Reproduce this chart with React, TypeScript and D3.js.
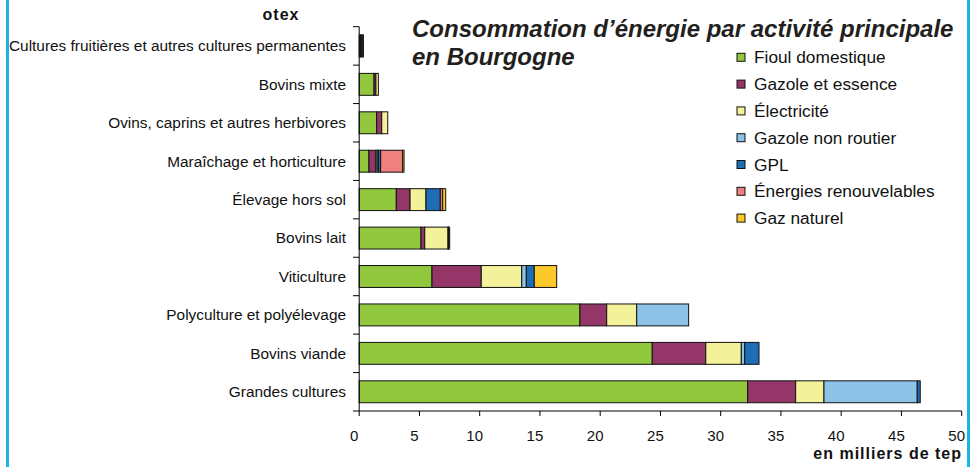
import React, { useEffect, useRef } from 'react';
import * as d3 from 'd3';

// otex, top to bottom
const categories = [
  'Cultures fruitières et autres cultures permanentes',
  'Bovins mixte',
  'Ovins, caprins et autres herbivores',
  'Maraîchage et horticulture',
  'Élevage hors sol',
  'Bovins lait',
  'Viticulture',
  'Polyculture et polyélevage',
  'Bovins viande',
  'Grandes cultures',
];

const energies = [
  'Fioul domestique',
  'Gazole et essence',
  'Électricité',
  'Gazole non routier',
  'GPL',
  'Énergies renouvelables',
  'Gaz naturel',
];

// milliers de tep, one array per energy, same order as categories
const fioul = [0.1, 1.23, 1.45, 0.81, 3.08, 5.13, 6.04, 18.32, 24.32, 32.24];
const gazole = [0.1, 0.16, 0.42, 0.58, 1.14, 0.31, 4.09, 2.22, 4.44, 3.98];
const electricite = [0.1, 0.2, 0.5, 0.1, 1.32, 1.93, 3.36, 2.49, 2.95, 2.35];
const gazoleNonRoutier = [0, 0, 0, 0.1, 0, 0.05, 0.38, 4.31, 0.28, 7.74];
const gpl = [0.05, 0, 0, 0.19, 1.19, 0.09, 0.66, 0, 1.19, 0.25];
const renouvelables = [0, 0, 0, 1.83, 0.2, 0, 0, 0, 0, 0];
const gazNaturel = [0, 0, 0, 0.11, 0.25, 0, 1.86, 0, 0, 0];

const colors = ['#92c83e', '#943768', '#f3f199', '#8dc3e7', '#1f6db4', '#f07f7f', '#fdc82a'];
const xTicks = [0, 5, 10, 15, 20, 25, 30, 35, 40, 45, 50];

export default function App() {
  const svgRef = useRef<SVGSVGElement>(null);

  useEffect(() => {
    const svg = d3.select(svgRef.current);
    svg.selectAll('*').remove();
    const font = 'Liberation Sans, Arial, sans-serif';
    const top = 26.7;
    const bottom = 411;

    const series = [fioul, gazole, electricite, gazoleNonRoutier, gpl, renouvelables, gazNaturel];
    const rows = categories.map((c, i) => {
      const r: any = { cat: c };
      energies.forEach((e, k) => (r[e] = series[k][i]));
      return r;
    });
    const stacked = d3.stack().keys(energies)(rows);

    const x = d3.scaleLinear().domain([0, 50]).range([359.2, 961.7]);
    const y = d3.scaleBand().domain(categories).range([top, bottom]).paddingInner(0.43).paddingOuter(0.215);

    // side borders
    svg.append('line').attr('x1', 7.5).attr('x2', 7.5).attr('y1', 0).attr('y2', 467)
      .attr('stroke', '#1db4e2').attr('stroke-width', 3);
    svg.append('line').attr('x1', 968.5).attr('x2', 968.5).attr('y1', 0).attr('y2', 467)
      .attr('stroke', '#1db4e2').attr('stroke-width', 3);

    // bars
    svg.append('g').selectAll('g').data(stacked).join('g')
      .attr('fill', (d, i) => colors[i])
      .selectAll('rect').data((d) => d.filter((p) => p[1] - p[0] > 0)).join('rect')
      .attr('x', (d) => x(d[0]))
      .attr('y', (d: any) => y(d.data.cat)!)
      .attr('width', (d) => x(d[1]) - x(d[0]))
      .attr('height', y.bandwidth())
      .attr('stroke', '#111')
      .attr('stroke-width', 1);

    // y axis
    const yAxis = svg.append('g');
    yAxis.append('line').attr('x1', 359.2).attr('x2', 359.2).attr('y1', top).attr('y2', bottom)
      .attr('stroke', '#000');
    const step = y.step();
    d3.range(categories.length + 1).forEach((i) => {
      const yy = top + i * step;
      yAxis.append('line').attr('x1', 353).attr('x2', 359.2).attr('y1', yy).attr('y2', yy).attr('stroke', '#000');
    });
    yAxis.selectAll('text.cat').data(categories).join('text')
      .attr('class', 'cat')
      .attr('x', 346)
      .attr('y', (d) => y(d)! + y.bandwidth() / 2)
      .attr('dy', '0.35em')
      .attr('text-anchor', 'end')
      .attr('font-family', font)
      .attr('font-size', 15.4)
      .attr('fill', '#111')
      .text((d) => d);

    // x axis
    const xAxis = svg.append('g').attr('transform', `translate(0,${bottom})`);
    xAxis.append('line').attr('x1', 359.2).attr('x2', 961.7).attr('stroke', '#000');
    xAxis.selectAll('line.tick').data(xTicks).join('line')
      .attr('class', 'tick')
      .attr('x1', (d) => x(d)).attr('x2', (d) => x(d))
      .attr('y1', 0).attr('y2', 5).attr('stroke', '#000');
    xAxis.selectAll('text').data(xTicks).join('text')
      .attr('x', (d) => x(d) - 5)
      .attr('y', 30)
      .attr('text-anchor', 'middle')
      .attr('font-family', font)
      .attr('font-size', 15)
      .attr('fill', '#111')
      .text((d) => d);

    svg.append('text').attr('x', 962).attr('y', 459).attr('text-anchor', 'end')
      .attr('font-family', font).attr('font-size', 16).attr('font-weight', 'bold')
      .attr('letter-spacing', 1).attr('fill', '#111').text('en milliers de tep');

    svg.append('text').attr('x', 281).attr('y', 20).attr('text-anchor', 'middle')
      .attr('font-family', font).attr('font-size', 16).attr('font-weight', 'bold')
      .attr('letter-spacing', 1).attr('fill', '#111').text('otex');

    // title
    const title = svg.append('text').attr('font-family', font).attr('font-size', 24)
      .attr('font-weight', 'bold').attr('font-style', 'italic').attr('fill', '#231f20');
    title.append('tspan').attr('x', 412).attr('y', 37).text('Consommation d’énergie par activité principale');
    title.append('tspan').attr('x', 412).attr('y', 65).text('en Bourgogne');

    // legend
    const legend = svg.append('g').selectAll('g').data(energies).join('g')
      .attr('transform', (d, i) => `translate(737,${57.3 + i * 26.8})`);
    legend.append('rect').attr('x', 0).attr('y', -4).attr('width', 8).attr('height', 8)
      .attr('fill', (d, i) => colors[i]).attr('stroke', '#111');
    legend.append('text').attr('x', 17).attr('dy', '0.35em')
      .attr('font-family', font).attr('font-size', 17.3).attr('fill', '#111')
      .text((d) => d);
  }, []);

  return (
    <svg ref={svgRef} width={979} height={467}
      style={{ position: 'absolute', left: 0, top: 0, background: '#fff' }} />
  );
}
